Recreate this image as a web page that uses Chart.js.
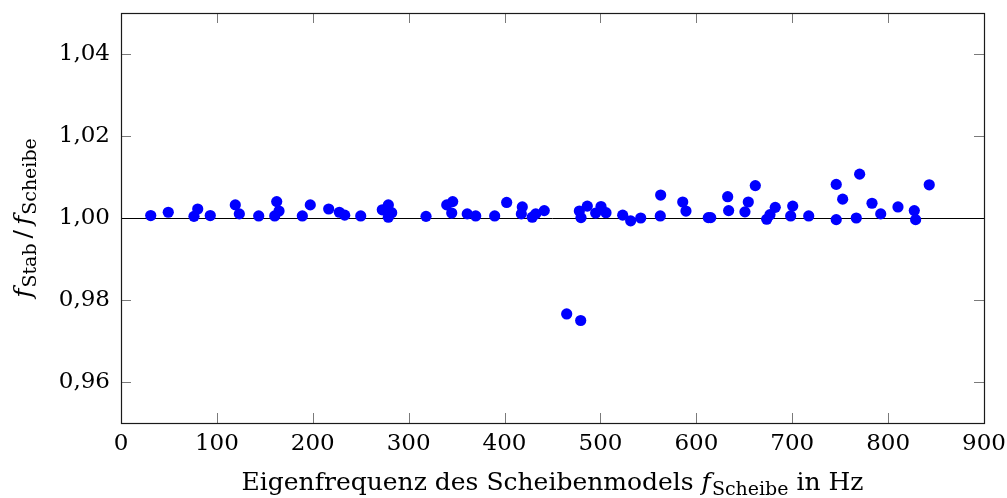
<!DOCTYPE html>
<html>
<head>
<meta charset="utf-8">
<script src="https://cdn.jsdelivr.net/npm/chart.js@4.4.1/dist/chart.umd.min.js"></script>
<style>
  html, body { margin: 0; padding: 0; background: #fff; }
  #wrap { width: 1007px; height: 498px; }
</style>
</head>
<body>
<div id="wrap"><canvas id="c" width="1007" height="498"></canvas></div>
<script>
// Eigenfrequenz des Scheibenmodels (Hz)
const freqScheibe = [
  31.0, 49.3, 76.1, 80.0, 93.1, 119.2, 123.4, 143.6, 160.3, 162.4,
  164.8, 189.1, 197.4, 216.6, 227.7, 233.3, 250.0, 272.5, 278.8, 282.3,
  278.8, 318.1, 339.7, 345.9, 344.9, 361.1, 369.9, 389.7, 402.2, 418.5,
  417.5, 428.9, 432.5, 441.4, 478.0, 479.7, 486.3, 495.0, 500.6, 505.8,
  523.2, 531.5, 542.0, 562.8, 562.4, 585.8, 589.2, 612.5, 615.0, 632.7,
  633.7, 650.7, 654.2, 661.5, 673.4, 676.8, 682.3, 698.4, 700.5, 717.2,
  745.9, 745.9, 752.6, 766.8, 770.3, 783.2, 792.3, 810.3, 827.3, 828.7,
  842.9, 464.8, 479.4
];
// Verhältnis f_Stab / f_Scheibe
const freqRatio = [
  1.0006, 1.0014, 1.0004, 1.0022, 1.0006, 1.0032, 1.0010, 1.0005, 1.0005, 1.0040,
  1.0017, 1.0005, 1.0032, 1.0022, 1.0014, 1.0007, 1.0005, 1.0020, 1.0032, 1.0013,
  1.0002, 1.0004, 1.0032, 1.0040, 1.0012, 1.0010, 1.0005, 1.0005, 1.0038, 1.0027,
  1.0010, 1.0002, 1.0010, 1.0018, 1.0017, 1.0001, 1.0029, 1.0012, 1.0028, 1.0013,
  1.0007, 0.9993, 1.0000, 1.0056, 1.0005, 1.0039, 1.0017, 1.0001, 1.0001, 1.0052,
  1.0018, 1.0015, 1.0039, 1.0079, 0.9997, 1.0008, 1.0026, 1.0005, 1.0029, 1.0005,
  1.0082, 0.9996, 1.0046, 1.0000, 1.0107, 1.0036, 1.0010, 1.0027, 1.0018, 0.9996,
  1.0081, 0.9766, 0.9750
];
const xTicks = [0, 100, 200, 300, 400, 500, 600, 700, 800, 900];
const yTicks = [0.96, 0.98, 1.00, 1.02, 1.04];
const referenceRatio = 1.00;

const FONT = "'DejaVu Serif', 'Liberation Serif', serif";
const points = freqScheibe.map((f, i) => ({ x: f, y: freqRatio[i] }));

// Draws a run of text pieces (main / italic / subscript) as one centred label
function drawRuns(ctx, runs, cx, cy) {
  let total = 0;
  runs.forEach(r => { ctx.font = r.font; r.w = ctx.measureText(r.t).width; total += r.w + (r.gap || 0); });
  let x = cx - total / 2;
  runs.forEach(r => {
    ctx.font = r.font;
    ctx.fillText(r.t, x, cy + (r.dy || 0));
    x += r.w + (r.gap || 0);
  });
}

// no extra room for the outer tick labels: the plot box is fixed
function noPad(s) {
  s.paddingTop = 0; s.paddingBottom = 0; s.paddingLeft = 0; s.paddingRight = 0;
}

const framePlugin = {
  id: 'frame',
  beforeDatasetsDraw(chart) {
    const { ctx, chartArea: a, scales: { x, y } } = chart;
    ctx.save();
    // nach innen zeigende Teilstriche auf allen vier Seiten
    const tl = 10;
    ctx.strokeStyle = '#7a7a7a';
    ctx.lineWidth = 1;
    ctx.beginPath();
    xTicks.forEach(v => {
      const px = Math.round(x.getPixelForValue(v)) + 0.5;
      ctx.moveTo(px, a.bottom); ctx.lineTo(px, a.bottom - tl);
      ctx.moveTo(px, a.top); ctx.lineTo(px, a.top + tl);
    });
    yTicks.forEach(v => {
      const py = Math.round(y.getPixelForValue(v)) + 0.5;
      ctx.moveTo(a.left, py); ctx.lineTo(a.left + tl, py);
      ctx.moveTo(a.right, py); ctx.lineTo(a.right - tl, py);
    });
    ctx.stroke();
    // Bezugslinie bei 1,00
    const yr = Math.round(y.getPixelForValue(referenceRatio)) + 0.5;
    ctx.strokeStyle = '#000';
    ctx.lineWidth = 1;
    ctx.beginPath();
    ctx.moveTo(a.left, yr);
    ctx.lineTo(a.right, yr);
    ctx.stroke();
    ctx.restore();
  },
  afterDraw(chart) {
    const { ctx, chartArea: a } = chart;
    ctx.save();
    // Rahmen
    ctx.strokeStyle = '#1a1a1a';
    ctx.lineWidth = 1.2;
    ctx.strokeRect(Math.round(a.left) + 0.5, Math.round(a.top) + 0.5,
                   Math.round(a.right - a.left), Math.round(a.bottom - a.top));

    // Achsenbeschriftungen
    ctx.fillStyle = '#000';
    ctx.textBaseline = 'alphabetic';
    ctx.textAlign = 'left';
    const big = "25px " + FONT, ital = "italic 25px " + FONT, sub = "19px " + FONT;
    drawRuns(ctx, [
      { t: 'Eigenfrequenz des Scheibenmodels ', font: big },
      { t: 'f', font: ital, gap: 1 },
      { t: 'Scheibe', font: sub, dy: 5 },
      { t: ' in Hz', font: big }
    ], (a.left + a.right) / 2, 490);

    ctx.translate(31, (a.top + a.bottom) / 2);
    ctx.rotate(-Math.PI / 2);
    drawRuns(ctx, [
      { t: 'f', font: ital, gap: 1 },
      { t: 'Stab', font: sub, dy: 5, gap: 5 },
      { t: '/', font: big, gap: 5 },
      { t: 'f', font: ital, gap: 1 },
      { t: 'Scheibe', font: sub, dy: 5 }
    ], 0, 0);
    ctx.restore();
  }
};

new Chart(document.getElementById('c'), {
  type: 'scatter',
  data: {
    datasets: [{
      data: points,
      backgroundColor: '#0000ff',
      borderWidth: 0,
      pointRadius: 5.6,
      pointHoverRadius: 5.6
    }]
  },
  options: {
    responsive: false,
    animation: false,
    events: [],
    layout: { padding: { left: 0, top: 13, right: 23, bottom: 0 } },
    plugins: { legend: { display: false }, tooltip: { enabled: false } },
    scales: {
      x: {
        type: 'linear',
        min: 0, max: 900,
        afterFit: s => { s.height = 75; noPad(s); },
        afterBuildTicks: s => { s.ticks = xTicks.map(v => ({ value: v })); },
        grid: { display: false, drawTicks: false },
        border: { display: false },
        ticks: {
          padding: 7,
          maxRotation: 0,
          autoSkip: false,
          color: '#000',
          font: { family: FONT, size: 23 },
          callback: v => String(v)
        }
      },
      y: {
        type: 'linear',
        min: 0.95, max: 1.05,
        afterFit: s => { s.width = 121; noPad(s); },
        afterBuildTicks: s => { s.ticks = yTicks.map(v => ({ value: v })); },
        grid: { display: false, drawTicks: false },
        border: { display: false },
        ticks: {
          padding: 11,
          autoSkip: false,
          color: '#000',
          font: { family: FONT, size: 23 },
          callback: v => v.toFixed(2).replace('.', ',')
        }
      }
    }
  },
  plugins: [framePlugin]
});
</script>
</body>
</html>
